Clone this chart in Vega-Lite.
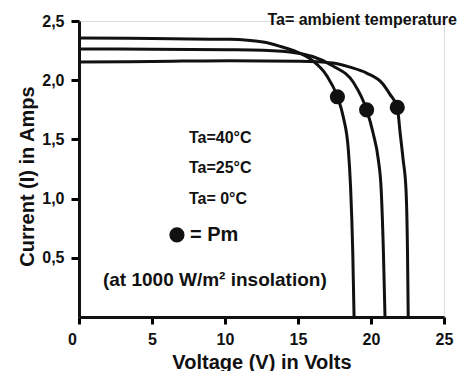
{
  "$schema": "https://vega.github.io/schema/vega-lite/v6.json",
  "width": 365,
  "height": 296,
  "autosize": {"type": "none"},
  "padding": {"left": 79, "top": 21, "right": 15, "bottom": 54},
  "background": "white",
  "config": {
    "font": "Liberation Sans",
    "text": {"font": "Liberation Sans", "fontWeight": "bold", "color": "#111111"}
  },
  "datasets": {
    "curves": [
      {"T": "40", "V": 0, "I": 2.356}, {"T": "40", "V": 5, "I": 2.352}, {"T": "40", "V": 10.3, "I": 2.345},
      {"T": "40", "V": 12.6, "I": 2.322}, {"T": "40", "V": 13.8, "I": 2.285}, {"T": "40", "V": 14.9, "I": 2.24},
      {"T": "40", "V": 16.05, "I": 2.16}, {"T": "40", "V": 16.96, "I": 2.04}, {"T": "40", "V": 17.7, "I": 1.86},
      {"T": "40", "V": 18.1, "I": 1.69}, {"T": "40", "V": 18.45, "I": 1.41}, {"T": "40", "V": 18.6, "I": 1.1},
      {"T": "40", "V": 18.75, "I": 0.55}, {"T": "40", "V": 18.84, "I": 0},
      {"T": "25", "V": 0, "I": 2.264}, {"T": "25", "V": 5, "I": 2.262}, {"T": "25", "V": 10.3, "I": 2.258},
      {"T": "25", "V": 12.6, "I": 2.253}, {"T": "25", "V": 14.9, "I": 2.23}, {"T": "25", "V": 16.0, "I": 2.2},
      {"T": "25", "V": 17.4, "I": 2.12}, {"T": "25", "V": 18.8, "I": 1.98}, {"T": "25", "V": 19.7, "I": 1.75},
      {"T": "25", "V": 20.15, "I": 1.55}, {"T": "25", "V": 20.5, "I": 1.33}, {"T": "25", "V": 20.7, "I": 1.07},
      {"T": "25", "V": 20.85, "I": 0.55}, {"T": "25", "V": 20.96, "I": 0},
      {"T": "0", "V": 0, "I": 2.154}, {"T": "0", "V": 5, "I": 2.158}, {"T": "0", "V": 10.3, "I": 2.165},
      {"T": "0", "V": 15.1, "I": 2.16}, {"T": "0", "V": 17.4, "I": 2.145}, {"T": "0", "V": 18.56, "I": 2.11},
      {"T": "0", "V": 19.7, "I": 2.06}, {"T": "0", "V": 20.8, "I": 1.97}, {"T": "0", "V": 21.3, "I": 1.88},
      {"T": "0", "V": 21.8, "I": 1.77}, {"T": "0", "V": 22.0, "I": 1.55}, {"T": "0", "V": 22.2, "I": 1.33},
      {"T": "0", "V": 22.4, "I": 1.07}, {"T": "0", "V": 22.5, "I": 0.55}, {"T": "0", "V": 22.55, "I": 0}
    ],
    "pm": [
      {"T": "40", "V": 17.7, "I": 1.86},
      {"T": "25", "V": 19.7, "I": 1.75},
      {"T": "0", "V": 21.8, "I": 1.77}
    ],
    "one": [{}]
  },
  "layer": [
    {
      "data": {"name": "curves"},
      "mark": {"type": "line", "interpolate": "monotone", "color": "#111111", "strokeWidth": 3, "clip": false},
      "encoding": {
        "x": {
          "field": "V", "type": "quantitative",
          "scale": {"domain": [0, 25], "nice": false, "zero": true},
          "axis": {
            "title": "Voltage (V) in Volts",
            "values": [0, 5, 10, 15, 20, 25],
            "zindex": 1,
            "ticks": true,
            "tickSize": 7,
            "tickWidth": 3,
            "tickColor": "black",
            "grid": false,
            "domainColor": "#111111",
            "domainWidth": 3,
            "labelFont": "Liberation Sans",
            "labelFontWeight": "bold",
            "labelFontSize": 16,
            "labelColor": "#111111",
            "labelPadding": 7,
            "labelOffset": {"condition": {"test": "datum.value == 0", "value": -7}, "value": 0},
            "labelFlush": false,
            "labelOverlap": false,
            "titleFont": "Liberation Sans",
            "titleFontWeight": "bold",
            "titleFontSize": 20,
            "titleColor": "#111111",
            "titleBaseline": "alphabetic",
            "titleY": 51
          }
        },
        "y": {
          "field": "I", "type": "quantitative",
          "scale": {"domain": [0, 2.5], "nice": false, "zero": true},
          "axis": {
            "title": "Current (I) in Amps",
            "values": [0.5, 1, 1.5, 2, 2.5],
            "labelExpr": "replace(format(datum.value, '.1f'), '.', ',')",
            "zindex": 1,
            "ticks": true,
            "tickSize": 8,
            "tickWidth": 3,
            "tickColor": "black",
            "grid": false,
            "domainColor": "#111111",
            "domainWidth": 3,
            "labelFont": "Liberation Sans",
            "labelFontWeight": "bold",
            "labelFontSize": 16,
            "labelColor": "#111111",
            "labelPadding": 7,
            "labelFlush": false,
            "labelOverlap": false,
            "titleFont": "Liberation Sans",
            "titleFontWeight": "bold",
            "titleFontSize": 20,
            "titleColor": "#111111",
            "titleBaseline": "alphabetic",
            "titleX": -46,
            "titleY": 155
          }
        },
        "detail": {"field": "T", "type": "nominal"}
      }
    },
    {
      "data": {"name": "pm"},
      "mark": {"type": "point", "filled": true, "color": "#111111", "size": 230, "opacity": 1},
      "encoding": {
        "x": {"field": "V", "type": "quantitative"},
        "y": {"field": "I", "type": "quantitative"}
      }
    },
    {
      "data": {"name": "one"},
      "mark": {"type": "text", "text": "Ta= ambient temperature", "fontSize": 16, "align": "right", "baseline": "middle"},
      "encoding": {"x": {"datum": 25.89}, "y": {"datum": 2.508}}
    },
    {
      "data": {"name": "one"},
      "mark": {"type": "text", "text": "Ta=40°C", "fontSize": 16, "align": "left", "baseline": "middle"},
      "encoding": {"x": {"datum": 7.53}, "y": {"datum": 1.512}}
    },
    {
      "data": {"name": "one"},
      "mark": {"type": "text", "text": "Ta=25°C", "fontSize": 16, "align": "left", "baseline": "middle"},
      "encoding": {"x": {"datum": 7.53}, "y": {"datum": 1.258}}
    },
    {
      "data": {"name": "one"},
      "mark": {"type": "text", "text": "Ta= 0°C", "fontSize": 16, "align": "left", "baseline": "middle"},
      "encoding": {"x": {"datum": 7.53}, "y": {"datum": 0.997}}
    },
    {
      "data": {"name": "one"},
      "mark": {"type": "point", "filled": true, "color": "#111111", "size": 230, "opacity": 1},
      "encoding": {"x": {"datum": 6.71}, "y": {"datum": 0.693}}
    },
    {
      "data": {"name": "one"},
      "mark": {"type": "text", "text": "= Pm", "fontSize": 20, "align": "left", "baseline": "middle"},
      "encoding": {"x": {"datum": 7.6}, "y": {"datum": 0.693}}
    },
    {
      "data": {"name": "one"},
      "mark": {"type": "text", "text": "(at 1000 W/m² insolation)", "fontSize": 19, "align": "left", "baseline": "middle"},
      "encoding": {"x": {"datum": 1.64}, "y": {"datum": 0.31}}
    }
  ]
}
